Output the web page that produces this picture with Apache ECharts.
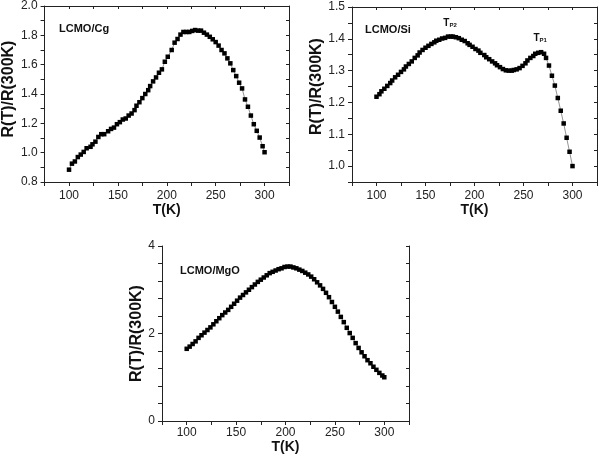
<!DOCTYPE html>
<html>
<head>
<meta charset="utf-8">
<script src="https://cdn.jsdelivr.net/npm/echarts@6/dist/echarts.min.js"></script>
<style>
html,body{margin:0;padding:0;background:#fff;}
#c{width:602px;height:457px;}
</style>
</head>
<body>
<div id="c"></div>
<script>
// ---- Data ----
const panelTitles = ['LCMO/Cg', 'LCMO/Si', 'LCMO/MgO'];
const xName = 'T(K)';
const yName = 'R(T)/R(300K)';

const T1 = [100,103,106,109,112,115,118,122,124,127,130,133,136,140,143,146,149,152,155,158,161,164,167,169,172,175,178,181,183,186,189,192,195,198,201,205,208,211,214,217,220,223,226,229,232,235,238,241,244,247,250,253,256,259,262,265,268,271,274,277,280,283,286,289,292,295,298,300];
const R1 = [0.884,0.925,0.94,0.97,0.987,1.005,1.03,1.04,1.057,1.075,1.107,1.126,1.126,1.146,1.162,1.171,1.194,1.208,1.226,1.233,1.253,1.267,1.29,1.32,1.344,1.372,1.40,1.426,1.454,1.486,1.513,1.545,1.568,1.62,1.654,1.70,1.75,1.775,1.805,1.823,1.823,1.823,1.83,1.836,1.832,1.832,1.818,1.805,1.79,1.773,1.754,1.73,1.70,1.677,1.643,1.609,1.563,1.522,1.477,1.438,1.363,1.313,1.253,1.194,1.149,1.103,1.044,1.003];

const T2 = [100,103,105,108,111,114,116,119,122,125,128,130,133,136,139,142,144,147,150,153,156,159,161,164,167,170,173,176,178,181,184,187,190,193,195,198,201,204,206,210,212,215,218,221,223,226,229,232,235,238,240,243,246,249,252,254,257,260,262,265,268,271,273,276,279,282,285,288,291,294,297,300];
const R2 = [1.218,1.226,1.235,1.243,1.252,1.261,1.269,1.279,1.287,1.296,1.304,1.313,1.321,1.329,1.34,1.348,1.357,1.365,1.372,1.378,1.384,1.389,1.394,1.397,1.401,1.403,1.407,1.407,1.407,1.405,1.402,1.397,1.393,1.386,1.381,1.375,1.368,1.363,1.356,1.349,1.342,1.336,1.329,1.323,1.317,1.311,1.305,1.301,1.30,1.30,1.302,1.304,1.308,1.315,1.323,1.332,1.34,1.346,1.353,1.356,1.358,1.353,1.34,1.316,1.284,1.253,1.214,1.174,1.134,1.089,1.045,1.0];

const T3 = [100,103,106,109,112,115,118,121,124,127,130,133,136,139,142,145,148,151,154,157,160,163,166,169,172,175,178,181,184,187,190,193,196,199,202,205,208,211,214,217,220,223,226,229,232,235,238,241,244,247,250,253,256,259,262,265,268,271,274,277,280,283,286,289,292,295,298,300];
const R3 = [1.65,1.70,1.76,1.82,1.90,1.96,2.02,2.08,2.14,2.21,2.28,2.35,2.42,2.48,2.54,2.61,2.68,2.75,2.82,2.88,2.94,3.00,3.06,3.12,3.18,3.23,3.28,3.33,3.38,3.41,3.44,3.47,3.49,3.52,3.53,3.53,3.51,3.49,3.46,3.43,3.39,3.35,3.30,3.24,3.17,3.10,3.02,2.93,2.83,2.72,2.61,2.50,2.38,2.26,2.13,2.01,1.90,1.78,1.67,1.57,1.48,1.39,1.32,1.24,1.17,1.10,1.04,1.00];

const peakLabels = [
  {name: 'P2', T: 175, R: 1.407},
  {name: 'P1', T: 267, R: 1.358}
];

// ---- Chart ----
const FONT = '"Liberation Sans", Arial, Helvetica, sans-serif';
const grids = [
  {left: 41, top: 6, width: 248, height: 176},
  {left: 352, top: 7, width: 245, height: 175},
  {left: 162, top: 246, width: 247, height: 175}
];
const yCfg = [
  {min: 0.8, max: 2.0, interval: 0.1, show: v => Math.abs(v*5 - Math.round(v*5)) < 1e-6, fmt: v => v.toFixed(1), gap: 27, pad: [0,0,0,10]},
  {min: 0.95, max: 1.5, interval: 0.05, show: v => Math.abs(v*10 - Math.round(v*10)) < 1e-6, fmt: v => v.toFixed(1), gap: 27, pad: [0,0,0,16]},
  {min: 0, max: 4, interval: 0.4, show: v => Math.abs(v/2 - Math.round(v/2)) < 1e-6, fmt: v => String(Math.round(v)), gap: 16, pad: [0,0,0,0]}
];
const xNameGap = [20, 20, 17];
const xLabelMargin = [8, 8, 6];
const axisColor = '#222';

const xAxes = [], yAxes = [], series = [], titles = [];
const datasets = [[T1,R1],[T2,R2],[T3,R3]];

grids.forEach((g, i) => {
  const xBase = {
    gridIndex: i, type: 'value', min: 75, max: 325, interval: 25,
    splitLine: {show: false},
    axisLine: {lineStyle: {color: axisColor, width: 1}}
  };
  xAxes.push(Object.assign({}, xBase, {
    position: 'bottom',
    name: xName, nameLocation: 'middle', nameGap: xNameGap[i],
    nameTextStyle: {fontFamily: FONT, fontSize: 14, fontWeight: 'bold', color: '#111'},
    axisTick: {inside: false, length: 4, lineStyle: {color: axisColor}},
    axisLabel: {
      fontFamily: FONT, fontSize: 12, color: '#222', margin: xLabelMargin[i],
      formatter: v => (Math.abs(v % 50) < 1e-6 ? String(v) : '')
    }
  }));
  xAxes.push(Object.assign({}, xBase, {
    position: 'top',
    axisTick: {inside: true, length: 3, lineStyle: {color: axisColor}},
    axisLabel: {show: false}
  }));
  const c = yCfg[i];
  const yBase = {
    gridIndex: i, type: 'value', min: c.min, max: c.max, interval: c.interval,
    splitLine: {show: false},
    axisLine: {lineStyle: {color: axisColor, width: 1}}
  };
  yAxes.push(Object.assign({}, yBase, {
    position: 'left',
    name: yName, nameLocation: 'middle', nameGap: c.gap, nameRotate: 90,
    nameTextStyle: {fontFamily: FONT, fontSize: 16, fontWeight: 'bold', color: '#111', padding: c.pad},
    axisTick: {inside: false, length: 4, lineStyle: {color: axisColor}},
    axisLabel: {
      fontFamily: FONT, fontSize: 12, color: '#222', margin: 7,
      formatter: v => (c.show(v) ? c.fmt(v) : '')
    }
  }));
  yAxes.push(Object.assign({}, yBase, {
    position: 'right',
    axisTick: {inside: true, length: 3, lineStyle: {color: axisColor}},
    axisLabel: {show: false}
  }));

  const [T, R] = datasets[i];
  const s = {
    type: 'line', xAxisIndex: 2*i, yAxisIndex: 2*i,
    data: T.map((t, k) => [t, R[k]]),
    symbol: 'rect', symbolSize: 4.5, showSymbol: true,
    itemStyle: {color: '#000'},
    lineStyle: {color: '#777', width: 0.8},
    animation: false, silent: true
  };
  if (i === 1) {
    s.markPoint = {
      symbol: 'circle', symbolSize: 1,
      itemStyle: {color: 'transparent'},
      animation: false,
      data: peakLabels.map(p => ({
        coord: [p.T, p.R],
        label: {
          show: true, position: 'top', distance: 8,
          formatter: '{t|T}{s|' + p.name + '}',
          rich: {
            t: {fontFamily: FONT, fontSize: 10, fontWeight: 'bold', color: '#111', verticalAlign: 'bottom'},
            s: {fontFamily: FONT, fontSize: 6, fontWeight: 'bold', color: '#111', verticalAlign: 'bottom', padding: [3,0,0,0]}
          }
        }
      }))
    };
  }
  series.push(s);
});

titles.push({text: panelTitles[0], left: 59, top: 23});
titles.push({text: panelTitles[1], left: 365, top: 24});
titles.push({text: panelTitles[2], left: 180, top: 265});
titles.forEach(t => { t.textStyle = {fontFamily: FONT, fontSize: 11, fontWeight: 'bold', color: '#111'}; t.padding = 0; });

const chart = echarts.init(document.getElementById('c'), null, {renderer: 'canvas'});
chart.setOption({
  backgroundColor: '#fff',
  animation: false,
  title: titles,
  grid: grids,
  xAxis: xAxes,
  yAxis: yAxes,
  series: series
});
</script>
</body>
</html>
